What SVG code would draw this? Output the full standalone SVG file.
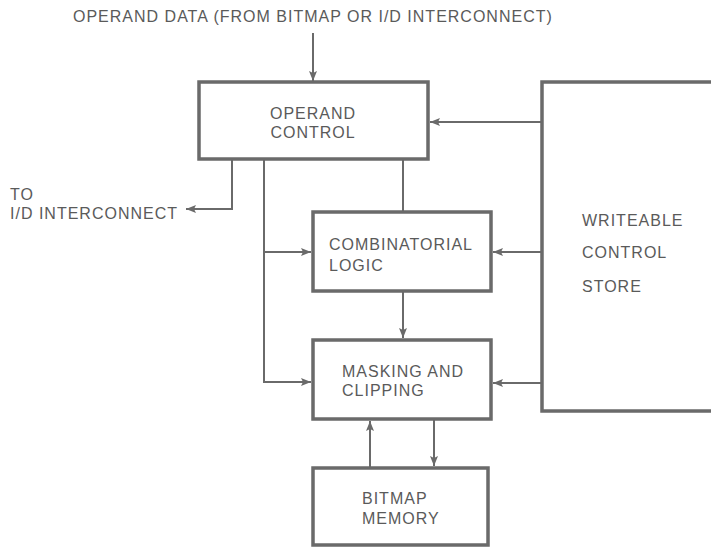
<svg xmlns="http://www.w3.org/2000/svg" width="711" height="547" viewBox="0 0 711 547">
<style>
.box{fill:#fff;stroke:#6a6a6a;stroke-width:3.5}
.ln{fill:none;stroke:#6a6a6a;stroke-width:2}
text{font-family:"Liberation Sans",Arial,sans-serif;font-size:16px;fill:#5a5a5a;letter-spacing:1px}
</style>
<defs>
<marker id="ah" markerWidth="10" markerHeight="8" refX="10" refY="4" orient="auto" markerUnits="userSpaceOnUse">
<path d="M0,0 L10,4 L0,8 L2,4 Z" fill="#6a6a6a"/>
</marker>
</defs>
<rect width="711" height="547" fill="#fff"/>
<text x="73" y="22">OPERAND DATA (FROM BITMAP OR I/D INTERCONNECT)</text>
<text x="10" y="200">TO</text>
<text x="10" y="219">I/D INTERCONNECT</text>
<g id="connectors">
<line class="ln" x1="313" y1="33" x2="313" y2="81" marker-end="url(#ah)"/>
<polyline class="ln" points="232,159 232,209 186,209" marker-end="url(#ah)"/>
<polyline class="ln" points="264,159 264,382 311,382" marker-end="url(#ah)"/>
<line class="ln" x1="264" y1="252" x2="311" y2="252" marker-end="url(#ah)"/>
<line class="ln" x1="403" y1="159" x2="403" y2="211"/>
<line class="ln" x1="403" y1="292" x2="403" y2="338" marker-end="url(#ah)"/>
<line class="ln" x1="542" y1="122" x2="430" y2="122" marker-end="url(#ah)"/>
<line class="ln" x1="542" y1="252" x2="493" y2="252" marker-end="url(#ah)"/>
<line class="ln" x1="542" y1="383" x2="493" y2="383" marker-end="url(#ah)"/>
<line class="ln" x1="370" y1="467" x2="370" y2="421" marker-end="url(#ah)"/>
<line class="ln" x1="434" y1="420" x2="434" y2="466" marker-end="url(#ah)"/>
</g>
<g id="operand-control">
<rect class="box" x="199" y="82" width="229" height="77"/>
<text x="313" y="119" text-anchor="middle">OPERAND</text>
<text x="313" y="138" text-anchor="middle">CONTROL</text>
</g>
<g id="combinatorial-logic">
<rect class="box" x="313" y="212" width="178" height="79"/>
<text x="329" y="250">COMBINATORIAL</text>
<text x="329" y="271">LOGIC</text>
</g>
<g id="masking-clipping">
<rect class="box" x="313" y="340" width="178" height="79"/>
<text x="342" y="377">MASKING AND</text>
<text x="342" y="396">CLIPPING</text>
</g>
<g id="bitmap-memory">
<rect class="box" x="313" y="468" width="175" height="77"/>
<text x="362" y="504">BITMAP</text>
<text x="362" y="524">MEMORY</text>
</g>
<g id="writeable-control-store">
<rect class="box" x="542" y="82" width="180" height="329"/>
<text x="582" y="226">WRITEABLE</text>
<text x="582" y="258">CONTROL</text>
<text x="582" y="292">STORE</text>
</g>
</svg>
